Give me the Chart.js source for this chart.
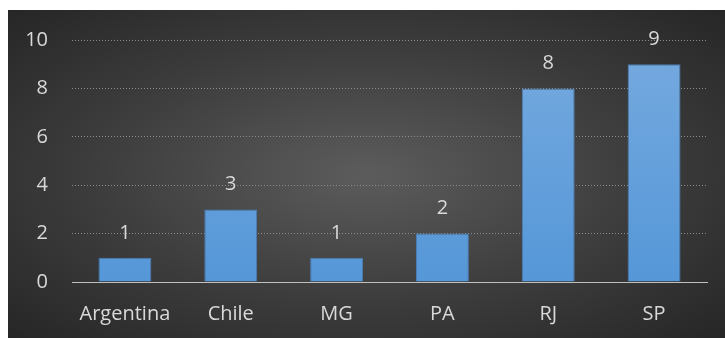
<!DOCTYPE html>
<html>
<head>
<meta charset="utf-8">
<script src="https://cdn.jsdelivr.net/npm/chart.js@4"></script>
<style>
  html, body { margin: 0; padding: 0; background: #ffffff; }
  .chart-box {
    position: absolute;
    left: 8px; top: 10px;
    width: 717px; height: 328px;
    background: radial-gradient(ellipse farthest-corner at 50% 50%, #5c5c5c 0%, #3c3c3c 55%, #262626 100%);
  }
  canvas { display: block; }
</style>
</head>
<body>
<div class="chart-box"><canvas id="barChart" width="717" height="328"></canvas></div>
<script>
const categories = ['Argentina', 'Chile', 'MG', 'PA', 'RJ', 'SP'];
const counts = [1, 3, 1, 2, 8, 9];
const yTicks = [0, 2, 4, 6, 8, 10];

const fontFamily = "'Open Sans', 'Noto Sans', sans-serif";
const textColor = '#d9d9d9';

// ---- Value labels above each bar ----
const valueLabels = {
  id: 'valueLabels',
  afterDatasetsDraw(chart) {
    const ctx = chart.ctx;
    const meta = chart.getDatasetMeta(0);
    ctx.save();
    ctx.font = '20px ' + fontFamily;
    ctx.fillStyle = textColor;
    ctx.textAlign = 'center';
    ctx.textBaseline = 'middle';
    meta.data.forEach((bar, i) => {
      ctx.fillText(String(counts[i]), bar.x, bar.y - 25);
    });
    ctx.restore();
  }
};

new Chart(document.getElementById('barChart'), {
  type: 'bar',
  data: {
    labels: categories,
    datasets: [{
      data: counts,
      backgroundColor: c => {
        const area = c.chart.chartArea;
        if (!area) return '#5b9bd5';
        const g = c.chart.ctx.createLinearGradient(0, area.top, 0, area.bottom);
        g.addColorStop(0, '#76aadf');
        g.addColorStop(1, '#5597d8');
        return g;
      },
      borderColor: '#4a7db5',
      borderWidth: 1,
      categoryPercentage: 0.5,
      barPercentage: 1
    }]
  },
  options: {
    responsive: false,
    animation: false,
    layout: { padding: { top: 30, right: 18, left: 0, bottom: 0 } },
    plugins: { legend: { display: false }, tooltip: { enabled: false } },
    scales: {
      x: {
        grid: { display: false },
        border: { color: '#bfbfbf', width: 1 },
        ticks: { color: textColor, font: { family: fontFamily, size: 20 }, padding: 12 },
        afterFit: s => { s.height = 56; }
      },
      y: {
        min: 0,
        max: 10,
        afterBuildTicks: s => { s.ticks = yTicks.map(v => ({ value: v })); },
        grid: { color: '#8c8c8c', lineWidth: 1, drawTicks: false },
        border: { display: false, dash: [1, 2] },
        ticks: { color: textColor, font: { family: fontFamily, size: 20 }, padding: 24 },
        afterFit: s => { s.width = 64; s.paddingTop = 0; s.paddingBottom = 0; }
      }
    }
  },
  plugins: [valueLabels]
});
</script>
</body>
</html>
